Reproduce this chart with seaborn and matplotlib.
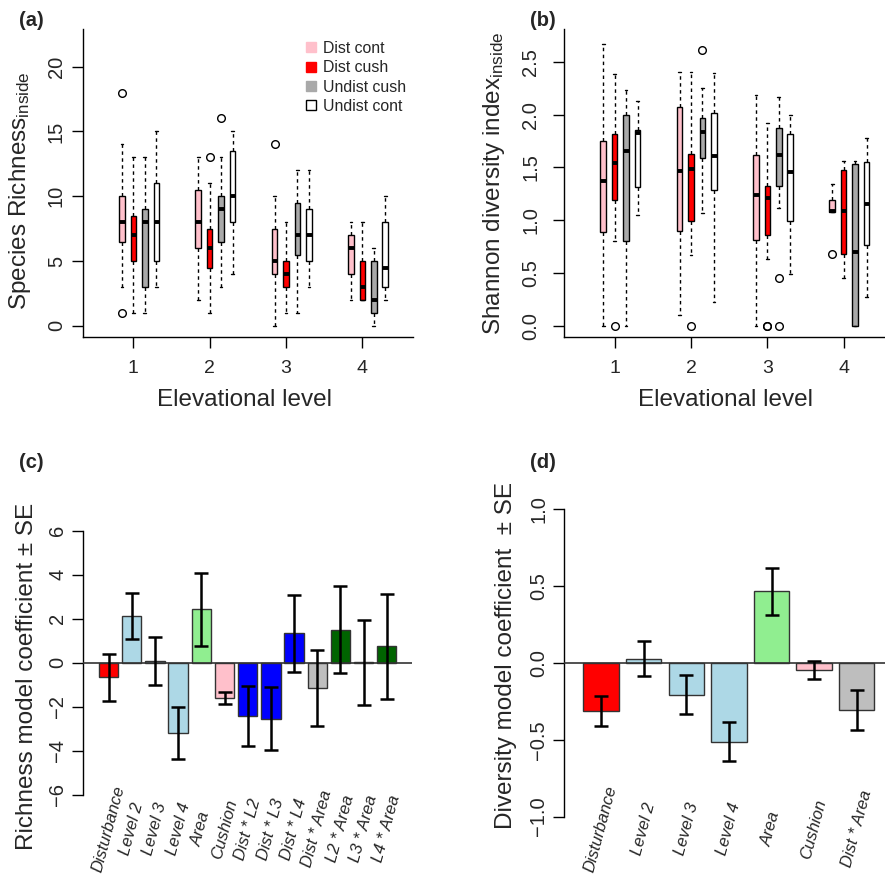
import matplotlib
matplotlib.use('Agg')
import matplotlib.pyplot as plt
import matplotlib.ticker as mticker
from matplotlib.lines import Line2D
import seaborn as sns

# ---------------- datos ----------------
levels = [1, 2, 3, 4]
groups = ['Dist cont', 'Dist cush', 'Undist cush', 'Undist cont']
group_colors = ['pink', 'red', 'darkgray', 'white']

# riqueza (filas = grupo, columnas = nivel)
rich_whislo = [[3, 2, 0, 2], [1, 1, 1, 2], [1, 3, 1, 0], [3, 4, 3, 2]]
rich_q1 = [[6.5, 6, 4, 4], [5, 4.5, 3, 2], [3, 6.5, 5.5, 1], [5, 8, 5, 3]]
rich_med = [[8, 8, 5, 6], [7, 6, 4, 3], [8, 9, 7, 2], [8, 10, 7, 4.5]]
rich_q3 = [[10, 10.5, 7.5, 7], [8.5, 7.5, 5, 5], [9, 10, 9.5, 5], [11, 13.5, 9, 8]]
rich_whishi = [[14, 13, 10, 8], [13, 11, 8, 8], [13, 13, 12, 6], [15, 15, 12, 10]]
rich_fliers = [[[18, 1], [], [14], []], [[], [13], [], []],
               [[], [16], [], []], [[], [], [], []]]

# Shannon
shan_whislo = [[0, 0.10, 0, 1.074], [0.80, 0.667, 0.638, 0.458],
               [0, 1.071, 1.112, 0], [1.046, 0.227, 0.496, 0.272]]
shan_q1 = [[0.891, 0.897, 0.815, 1.074], [1.194, 0.995, 0.856, 0.679],
           [0.805, 1.592, 1.32, 0], [1.311, 1.283, 0.989, 0.768]]
shan_med = [[1.374, 1.466, 1.239, 1.09], [1.542, 1.485, 1.207, 1.09],
            [1.652, 1.833, 1.618, 0.695], [1.826, 1.611, 1.46, 1.153]]
shan_q3 = [[1.754, 2.073, 1.621, 1.191], [1.82, 1.624, 1.32, 1.472],
           [1.997, 1.965, 1.874, 1.532], [1.851, 2.016, 1.813, 1.551]]
shan_whishi = [[2.673, 2.404, 2.186, 1.34], [2.386, 2.404, 1.918, 1.561],
               [2.237, 2.256, 2.167, 1.561], [2.13, 2.398, 1.993, 1.779]]
shan_fliers = [[[], [], [], [0.679]], [[0], [0], [0, 0], []],
               [[], [2.616], [0.452, 0], []], [[], [], [], []]]

# coeficientes del modelo de riqueza
rich_terms = ['Disturbance', 'Level 2', 'Level 3', 'Level 4', 'Area', 'Cushion',
              'Dist * L2', 'Dist * L3', 'Dist * L4', 'Dist * Area',
              'L2 * Area', 'L3 * Area', 'L4 * Area']
rich_coef = [-0.665, 2.115, 0.08, -3.2, 2.43, -1.605, -2.41, -2.55, 1.345,
             -1.165, 1.505, 0.01, 0.74]
rich_se = [1.055, 1.055, 1.08, 1.17, 1.67, 0.285, 1.37, 1.43, 1.755,
           1.735, 1.975, 1.95, 2.37]
rich_colors = ['red', 'lightblue', 'lightblue', 'lightblue', 'lightgreen', 'pink',
               'blue', 'blue', 'blue', '#BEBEBE', 'darkgreen', 'darkgreen', 'darkgreen']

# coeficientes del modelo de diversidad
div_terms = ['Disturbance', 'Level 2', 'Level 3', 'Level 4', 'Area', 'Cushion',
             'Dist * Area']
div_coef = [-0.315, 0.027, -0.208, -0.512, 0.463, -0.047, -0.31]
div_se = [0.096, 0.116, 0.128, 0.127, 0.154, 0.058, 0.13]
div_colors = ['red', 'lightblue', 'lightblue', 'lightblue', 'lightgreen', 'pink',
              '#BEBEBE']

# ---------------- estilo ----------------
sns.set_style("ticks")
plt.rcParams['font.family'] = ['Liberation Sans', 'DejaVu Sans']
plt.rcParams['mathtext.fontset'] = 'custom'
plt.rcParams['mathtext.rm'] = 'Liberation Sans'
plt.rcParams['mathtext.it'] = 'Liberation Sans:italic'
plt.rcParams['mathtext.bf'] = 'Liberation Sans:bold'
plt.rcParams['axes.unicode_minus'] = True

W, H = 885, 881
fig = plt.figure(figsize=(W / 100, H / 100), dpi=100)


def px_axes(left, top, right, bottom):
    return fig.add_axes([left / W, 1 - bottom / H, (right - left) / W, (bottom - top) / H])


ax_a = px_axes(83, 29.3, 412.7, 337.3)
ax_b = px_axes(564.3, 29.3, 894, 337.3)
ax_c = px_axes(83, 496.4, 412.4, 829)
ax_d = px_axes(564.3, 496.4, 893.5, 829)

offsets = [-0.15, 0.0, 0.15, 0.30]


def dec_fmt(v, _):
    return f'{v:.1f}'.replace('-', '\u2212')


def box_panel(ax, whislo, q1, med, q3, whishi, fliers, ypad):
    for g in range(len(groups)):
        stats = []
        for k in range(len(levels)):
            stats.append(dict(whislo=whislo[g][k], q1=q1[g][k], med=med[g][k],
                              q3=q3[g][k], whishi=whishi[g][k], fliers=fliers[g][k]))
        pos = [lev + offsets[g] for lev in levels]
        ax.bxp(stats, positions=pos, widths=0.072, capwidths=0.035,
               patch_artist=True, manage_ticks=False,
               boxprops=dict(facecolor=group_colors[g], edgecolor='black', linewidth=1),
               medianprops=dict(color='black', linewidth=2.8, solid_capstyle='butt'),
               whiskerprops=dict(color='black', linewidth=1, linestyle=(0, (2.5, 2.5))),
               capprops=dict(color='black', linewidth=1),
               flierprops=dict(marker='o', markerfacecolor='none', markeredgecolor='black',
                               markersize=5.5, markeredgewidth=1))
    ax.set_xlim(0.34, 4.66)
    ax.set_xticks(levels)
    ax.set_xticklabels([str(l) for l in levels])
    sns.despine(ax=ax)
    ax.tick_params(axis='x', length=7.9, width=1, pad=8.5, labelsize=14, color='black')
    ax.tick_params(axis='y', length=7.9, width=1, pad=ypad, labelsize=14.5, color='black')
    for sp in ax.spines.values():
        sp.set_linewidth(1)
        sp.set_color('black')
    ax.set_xlabel('Elevational level', fontsize=17.5, va='top')


def bar_panel(ax, terms, coef, se, colors):
    sns.barplot(x=terms, y=coef, hue=terms, palette=colors, legend=False,
                width=0.833, saturation=1, edgecolor='#333333', linewidth=1,
                zorder=2, ax=ax)
    ax.axhline(0, color='#333333', lw=1.2, zorder=3)
    ax.errorbar(range(len(terms)), coef, yerr=se, fmt='none', ecolor='black',
                elinewidth=1.8, capsize=5.3, capthick=1.8, zorder=4)
    n = len(terms)
    # mismo margen que barplot de R (space=0.2, extension 4 %)
    edge = 0.5 / 1.2 + 0.2 / 1.2 + 0.04 * (1.2 * n) / 1.2
    ax.set_xlim(-edge, n - 1 + edge)
    sns.despine(ax=ax, bottom=True)
    ax.set_xticks(range(n))
    ax.set_xticklabels(terms, rotation=75, ha='center', va='center',
                       rotation_mode='anchor', fontstyle='italic', fontsize=12)
    ax.tick_params(axis='x', length=0, pad=0)
    ax.tick_params(axis='y', length=7.9, width=1, pad=3.5, labelsize=14.5, color='black')
    ax.spines['left'].set_linewidth(1)
    ax.spines['left'].set_color('black')
    ax.grid(False)


# ---------------- (a) riqueza ----------------
box_panel(ax_a, rich_whislo, rich_q1, rich_med, rich_q3, rich_whishi, rich_fliers, 4.5)
ax_a.set_ylim(-0.88, 22.88)
ax_a.set_yticks([0, 5, 10, 15, 20])
ax_a.set_ylabel(r'Species Richness$_{\mathrm{inside}}$', fontsize=17.5)
ax_a.yaxis.set_label_coords(-0.152, 0.475)
ax_a.xaxis.set_label_coords(0.491, -0.167)
plt.setp(ax_a.get_yticklabels(), rotation=90, va='center')

handles = []
for g, c in zip(groups, group_colors):
    ec = 'black' if c == 'white' else c
    handles.append(Line2D([], [], marker='s', linestyle='none', markerfacecolor=c,
                          markeredgecolor=ec, markeredgewidth=1, markersize=6.5, label=g))
ax_a.legend(handles=handles, loc='upper left', bbox_to_anchor=(304 / W, 1 - 41 / H),
            bbox_transform=fig.transFigure, frameon=False, fontsize=11.4,
            handlelength=0.9, handletextpad=0.3, labelspacing=0.27, borderpad=0,
            borderaxespad=0)

# ---------------- (b) Shannon ----------------
box_panel(ax_b, shan_whislo, shan_q1, shan_med, shan_q3, shan_whishi, shan_fliers, 9.5)
ax_b.set_ylim(-0.108, 2.808)
ax_b.set_yticks([0, 0.5, 1.0, 1.5, 2.0, 2.5])
ax_b.yaxis.set_major_formatter(mticker.FuncFormatter(dec_fmt))
ax_b.set_ylabel(r'Shannon diversity index$_{\mathrm{inside}}$', fontsize=17.5)
ax_b.yaxis.set_label_coords(-0.175, 0.499)
ax_b.xaxis.set_label_coords(0.49, -0.167)
plt.setp(ax_b.get_yticklabels(), rotation=90, va='center')

# ---------------- (c) coeficientes riqueza ----------------
bar_panel(ax_c, rich_terms, rich_coef, rich_se, rich_colors)
ax_c.set_ylim(-7.56, 7.56)
ax_c.set_yticks([-6, -4, -2, 0, 2, 4, 6])
ax_c.spines['left'].set_bounds(-6, 6)
ax_c.set_ylabel('Richness model coefficient \u00b1 SE', fontsize=17.5)
ax_c.yaxis.set_label_coords(-0.136, 0.458)
plt.setp(ax_c.get_yticklabels(), rotation=90, va='center')

# ---------------- (d) coeficientes diversidad ----------------
bar_panel(ax_d, div_terms, div_coef, div_se, div_colors)
ax_d.set_ylim(-1.08, 1.08)
ax_d.set_yticks([-1.0, -0.5, 0.0, 0.5, 1.0])
ax_d.yaxis.set_major_formatter(mticker.FuncFormatter(dec_fmt))
ax_d.spines['left'].set_bounds(-1, 1)
ax_d.set_ylabel('Diversity model coefficient  \u00b1 SE', fontsize=17.5)
ax_d.yaxis.set_label_coords(-0.144, 0.521)
plt.setp(ax_d.get_yticklabels(), rotation=90, va='center')

# etiquetas de panel
for lbl, x, y in [('(a)', 19, 20.5), ('(b)', 530, 20.5), ('(c)', 19, 462), ('(d)', 530, 462)]:
    fig.text(x / W, 1 - y / H, lbl, fontsize=14.5, fontweight='bold', ha='left', va='center')

fig.savefig('out.png', dpi=100)
